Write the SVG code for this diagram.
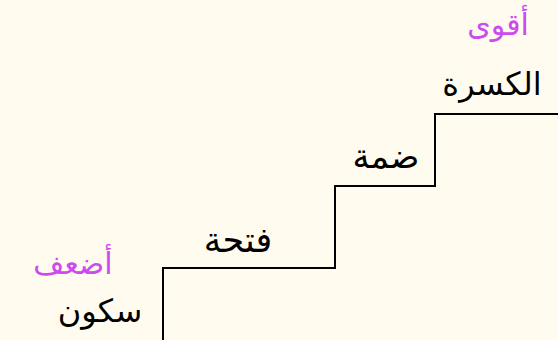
<svg xmlns="http://www.w3.org/2000/svg" width="558" height="340" viewBox="0 0 558 340">
<style>
.lbl{font-family:"DejaVu Sans",sans-serif;text-anchor:middle;fill:#000;}
.rank{font-family:"DejaVu Sans",sans-serif;text-anchor:middle;fill:#cc4bf0;}
.step{fill:none;stroke:#000;stroke-width:2;}
</style>
<rect width="558" height="340" fill="#fffcef"/>
<g id="connectors">
<path class="step" d="M163,340 V268 H335 V186 H435 V114 H558"/>
</g>
<g id="weakest"><text class="rank" x="73" y="274" font-size="30" direction="rtl">أضعف</text></g>
<g id="sukun"><text class="lbl" x="100" y="322" font-size="32" direction="rtl">سكون</text></g>
<g id="fatha"><text class="lbl" x="238" y="252" font-size="35" direction="rtl">فتحة</text></g>
<g id="damma"><text class="lbl" x="386" y="168" font-size="34" direction="rtl">ضمة</text></g>
<g id="kasra"><text class="lbl" x="492" y="95" font-size="32" direction="rtl">الكسرة</text></g>
<g id="strongest"><text class="rank" x="498" y="35" font-size="30" direction="rtl">أقوى</text></g>
</svg>
